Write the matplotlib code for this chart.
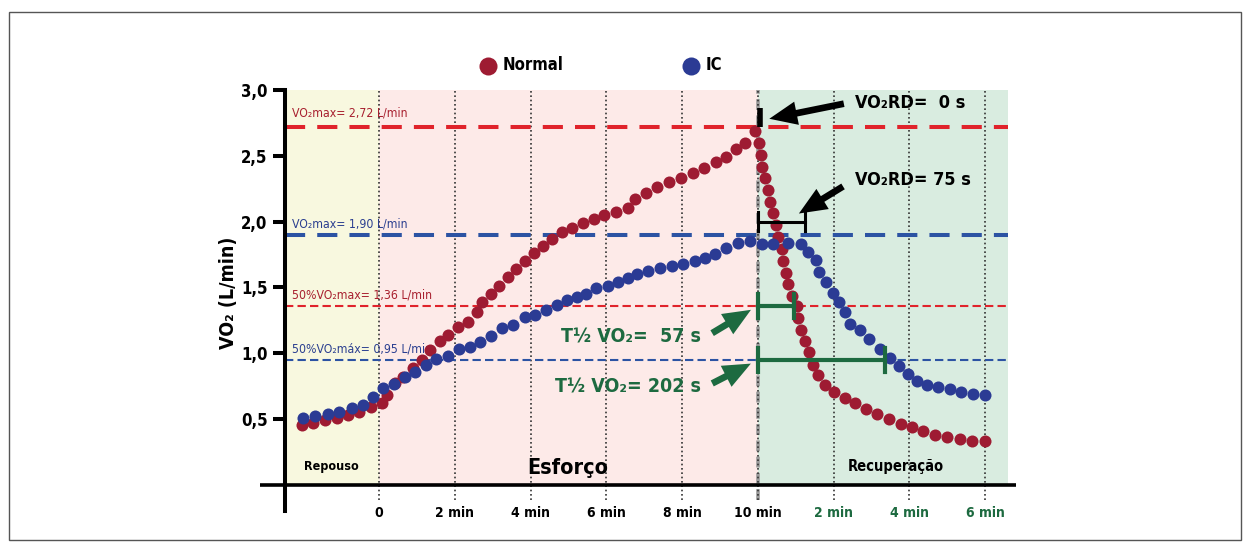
import matplotlib
matplotlib.use('Agg')
import matplotlib.pyplot as plt
from matplotlib import font_manager
from matplotlib.patches import Rectangle

# fonte condensada, se houver
nomes = {(f.name, f.stretch) for f in font_manager.fontManager.ttflist}
familias = {n for n, s in nomes}
if 'Liberation Sans Narrow' in familias:
    plt.rcParams['font.family'] = ['Liberation Sans Narrow', 'DejaVu Sans']
elif ('DejaVu Sans', 'condensed') in nomes:
    plt.rcParams['font.family'] = ['DejaVu Sans']
    plt.rcParams['font.stretch'] = 'condensed'
else:
    plt.rcParams['font.family'] = ['Liberation Sans', 'DejaVu Sans']

# tempo (min) e VO2 (L/min): repouso, esforço (0-10) e recuperação (10-16)
normal_t = [-2.04, -1.73, -1.42, -1.12, -0.81, -0.52, -0.22, 0.07, 0.22, 0.42,
            0.64, 0.91, 1.13, 1.35, 1.61, 1.83, 2.09, 2.36, 2.58, 2.73,
            2.96, 3.17, 3.40, 3.61, 3.85, 4.10, 4.32, 4.56, 4.82, 5.10,
            5.39, 5.67, 5.94, 6.25, 6.58, 6.75, 7.06, 7.34, 7.65, 7.96,
            8.28, 8.58, 8.89, 9.16, 9.41, 9.66, 9.92, 10.03, 10.07, 10.12,
            10.18, 10.27, 10.32, 10.39, 10.49, 10.54, 10.63, 10.67, 10.74, 10.80,
            10.90, 11.04, 11.06, 11.15, 11.24, 11.35, 11.46, 11.59, 11.77, 12.01,
            12.30, 12.56, 12.85, 13.15, 13.46, 13.77, 14.06, 14.36, 14.67, 14.99,
            15.33, 15.66, 15.99]
normal_vo2 = [0.45, 0.47, 0.49, 0.51, 0.53, 0.555, 0.59, 0.62, 0.68, 0.77,
              0.82, 0.885, 0.95, 1.02, 1.09, 1.14, 1.20, 1.24, 1.315, 1.385,
              1.45, 1.51, 1.58, 1.64, 1.70, 1.76, 1.815, 1.87, 1.92, 1.95,
              1.99, 2.02, 2.05, 2.075, 2.10, 2.17, 2.215, 2.26, 2.30, 2.33,
              2.37, 2.405, 2.45, 2.49, 2.55, 2.60, 2.69, 2.595, 2.505, 2.415,
              2.33, 2.24, 2.15, 2.065, 1.975, 1.885, 1.79, 1.70, 1.61, 1.525,
              1.435, 1.355, 1.265, 1.175, 1.09, 1.005, 0.91, 0.835, 0.76, 0.705,
              0.66, 0.62, 0.575, 0.54, 0.50, 0.465, 0.435, 0.405, 0.38, 0.36,
              0.345, 0.335, 0.335]

ic_t = [-2.01, -1.69, -1.35, -1.05, -0.72, -0.41, -0.17, 0.11, 0.40, 0.69,
        0.95, 1.23, 1.50, 1.81, 2.11, 2.40, 2.68, 2.95, 3.26, 3.54,
        3.85, 4.12, 4.41, 4.69, 4.95, 5.22, 5.46, 5.74, 6.05, 6.31,
        6.57, 6.81, 7.10, 7.41, 7.73, 8.02, 8.34, 8.60, 8.87, 9.16,
        9.47, 9.79, 10.11, 10.40, 10.80, 11.15, 11.33, 11.53, 11.62, 11.79,
        11.98, 12.15, 12.31, 12.42, 12.69, 12.93, 13.21, 13.48, 13.73, 13.97,
        14.19, 14.47, 14.76, 15.07, 15.37, 15.69, 16.00]
ic_vo2 = [0.505, 0.52, 0.535, 0.555, 0.58, 0.605, 0.665, 0.735, 0.765, 0.815,
          0.86, 0.91, 0.955, 0.98, 1.035, 1.045, 1.085, 1.13, 1.19, 1.215,
          1.275, 1.29, 1.325, 1.365, 1.405, 1.43, 1.45, 1.495, 1.51, 1.54,
          1.57, 1.60, 1.625, 1.645, 1.665, 1.68, 1.70, 1.72, 1.755, 1.80,
          1.835, 1.855, 1.83, 1.83, 1.835, 1.83, 1.77, 1.705, 1.62, 1.54,
          1.46, 1.385, 1.31, 1.225, 1.175, 1.105, 1.03, 0.965, 0.90, 0.845,
          0.785, 0.76, 0.74, 0.725, 0.705, 0.69, 0.68]

vo2max_normal = 2.72
vo2max_ic = 1.90
metade_normal = 1.36
metade_ic = 0.95
vo2rd = [0, 75]        # s
t_meio = [57, 202]     # s

ticks_x = [0, 2, 4, 6, 8, 10, 12, 14, 16]
ticks_x_txt = ['0', '2 min', '4 min', '6 min', '8 min', '10 min', '2 min', '4 min', '6 min']
ticks_y = [0.5, 1.0, 1.5, 2.0, 2.5, 3.0]
ticks_y_txt = ['0,5', '1,0', '1,5', '2,0', '2,5', '3,0']

VERM = '#9e1b32'
AZUL = '#2b3b94'
VERM_L = '#e0232b'
AZUL_L = '#2c53a3'
VERDE = '#1d6a40'

inicio = -2.48
fim = 16.6

fig = plt.figure(figsize=(12.51, 5.47), dpi=100)
ax = fig.add_axes([0.2078, 0.0658, 0.6043, 0.7697])
ax.set_xlim(-3.14, 16.81)
ax.set_ylim(-0.2, 3.0)

# fundo das fases
ax.fill_between([inicio, 0], 0, 3.0, color='#f8f8df', lw=0, zorder=0)
ax.fill_between([0, 10], 0, 3.0, color='#fdeae8', lw=0, zorder=0)
ax.fill_between([10, fim], 0, 3.0, color='#d9ece0', lw=0, zorder=0)

# grade vertical pontilhada
for x in ticks_x:
    if x == 10:
        ax.vlines(x, -0.12, 3.0, color='#9a9a9a', lw=2.6, linestyles=(0, (3, 1.5)), zorder=1)
    ax.vlines(x, -0.12, 3.0, color='#333333', lw=1.2, linestyles=(0, (1, 1.6)), zorder=1)

# linhas de referência
ax.hlines(vo2max_normal, inicio, fim, color=VERM_L, lw=2.9, linestyles=(0, (5, 3)), zorder=2)
ax.hlines(vo2max_ic, inicio, fim, color=AZUL_L, lw=2.9, linestyles=(0, (5, 3)), zorder=2)
ax.hlines(metade_normal, inicio, fim, color=VERM_L, lw=1.5, linestyles=(0, (4, 2)), zorder=2)
ax.hlines(metade_ic, inicio, fim, color=AZUL_L, lw=1.5, linestyles=(0, (4, 2)), zorder=2)

rot = dict(fontsize=8.8, va='bottom', ha='left', zorder=3, textcoords='offset points')
ax.annotate('VO₂max= 2,72 L/min', (inicio, vo2max_normal), xytext=(5, 5), color='#a8202f', **rot)
ax.annotate('VO₂max= 1,90 L/min', (inicio, vo2max_ic), xytext=(5, 3), color='#2b3f90', **rot)
ax.annotate('50%VO₂max= 1,36 L/min', (inicio, metade_normal), xytext=(5, 3), color='#a8202f', **rot)
ax.annotate('50%VO₂máx= 0,95 L/min', (inicio, metade_ic), xytext=(5, 3), color='#2b3f90', **rot)

# curvas
pn = ax.scatter(normal_t, normal_vo2, s=75, color=VERM, lw=0, zorder=4, label='Normal')
pi = ax.scatter(ic_t, ic_vo2, s=75, color=AZUL, lw=0, zorder=4, label='IC')

# eixo x e eixo y
ax.axhline(0, color='black', lw=2.6, zorder=5)
ax.spines['left'].set_position(('data', inicio))
ax.spines['left'].set_linewidth(2.9)
ax.spines['left'].set_zorder(5)
for lado in ['right', 'top', 'bottom']:
    ax.spines[lado].set_visible(False)

ax.set_yticks(ticks_y, ticks_y_txt)
ax.tick_params(axis='y', length=8.5, width=2.9, pad=4, labelsize=12)
for t in ax.get_yticklabels():
    t.set_fontweight('bold')
ax.set_xticks(ticks_x, ticks_x_txt)
ax.tick_params(axis='x', length=0, pad=-3.5, labelsize=10)
for i, t in enumerate(ax.get_xticklabels()):
    t.set_fontweight('bold')
    if ticks_x[i] > 10:
        t.set_color(VERDE)

ax.set_ylabel('VO₂ (L/min)', fontsize=14, fontweight='bold')
ax.yaxis.set_label_coords(-0.029, 0.518)

# fases
ax.text(-1.25, 0.14, 'Repouso', fontsize=9, fontweight='bold', ha='center', va='center')
ax.text(4.98, 0.13, 'Esforço', fontsize=15.5, fontweight='bold', ha='center', va='center')
ax.text(13.64, 0.14, 'Recuperação', fontsize=10.5, fontweight='bold', ha='center', va='center')

# VO2RD
seta = 'simple,head_length=1.0,head_width=0.85,tail_width=0.24'
ax.plot([10.05, 10.05], [vo2max_normal, vo2max_normal + 0.14], color='black', lw=4, zorder=6,
        solid_capstyle='butt')
fim_rd = 10 + vo2rd[1] / 60
ax.plot([10, fim_rd], [2.0, 2.0], color='black', lw=2.2, zorder=6)
ax.plot([10, 10], [1.93, 2.07], color='black', lw=2.2, zorder=6)
ax.plot([fim_rd, fim_rd], [1.93, 2.07], color='black', lw=2.2, zorder=6)

ax.annotate('', xy=(10.23, 2.777), xytext=(12.34, 2.90),
            arrowprops=dict(arrowstyle=seta, color='black', mutation_scale=20, lw=0), zorder=6)
ax.annotate('', xy=(11.02, 2.05), xytext=(12.31, 2.278),
            arrowprops=dict(arrowstyle=seta, color='black', mutation_scale=20, lw=0), zorder=6)
ax.text(12.56, 2.90, 'VO₂RD=  %d s' % vo2rd[0], fontsize=13, fontweight='bold', va='center', zorder=6)
ax.text(12.56, 2.316, 'VO₂RD= %d s' % vo2rd[1], fontsize=13, fontweight='bold', va='center', zorder=6)

# T1/2 VO2
for nivel, seg, y_txt, txt in [(metade_normal, t_meio[0], 1.121, 'T½ VO₂=  %d s'),
                               (metade_ic, t_meio[1], 0.74, 'T½ VO₂= %d s')]:
    x1 = 10 + seg / 60
    ax.plot([10, x1], [nivel, nivel], color=VERDE, lw=3, zorder=6)
    ax.plot([10, 10], [nivel - 0.09, nivel + 0.09], color=VERDE, lw=3, zorder=6)
    ax.plot([x1, x1], [nivel - 0.09, nivel + 0.09], color=VERDE, lw=3, zorder=6)
    ax.annotate('', xy=(9.88, nivel - 0.02), xytext=(8.73, y_txt + 0.02),
                arrowprops=dict(arrowstyle=seta, color=VERDE, mutation_scale=20, lw=0), zorder=6)
    ax.text(8.51, y_txt, txt % seg, fontsize=14, fontweight='bold', color=VERDE,
            ha='right', va='center', zorder=6)

# legenda
ax.legend(handles=[pn, pi], loc='center', bbox_to_anchor=(0.451, 1.059), ncol=2,
          frameon=False, markerscale=1.5, handlelength=1.0, handletextpad=0.4,
          columnspacing=7.1, borderpad=0, prop={'weight': 'bold', 'size': 12})

# moldura
fig.patches.append(Rectangle((9 / 1251, 1 - 540 / 547), 1232 / 1251, 528 / 547,
                             transform=fig.transFigure, fill=False, ec='#555555', lw=1))

fig.savefig('out.png', dpi=100)
